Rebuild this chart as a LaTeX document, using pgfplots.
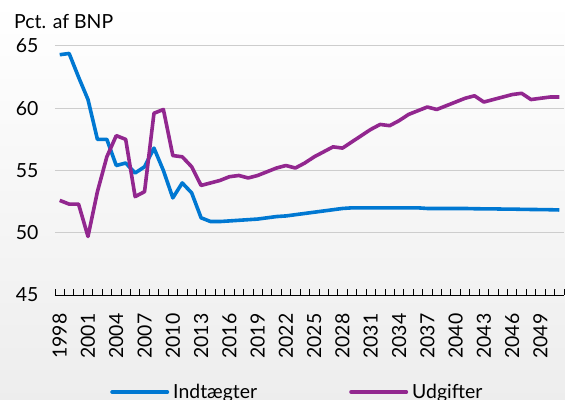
\documentclass[border=0pt]{standalone}
\usepackage{pgfplots}
\pgfplotsset{compat=1.18}
\usepackage{fontspec}
\setmainfont{Lato}
\definecolor{cblue}{RGB}{0,120,210}
\definecolor{cpurple}{RGB}{146,39,143}
\definecolor{cgrid}{RGB}{205,205,205}
\newcommand{\ff}{\fontsize{19.5}{22}\selectfont}
\begin{document}
\begin{tikzpicture}
\useasboundingbox (0bp,0bp) rectangle (565bp,400bp);
\clip (0bp,0bp) rectangle (565bp,400bp);
\shade[top color=white, bottom color=black!7] (0bp,0bp) rectangle (565bp,400bp);
\node[anchor=west, font=\ff, inner sep=0pt] at (14bp,378bp) {Pct. af BNP};
\begin{axis}[
  at={(55bp,105bp)}, anchor=south west,
  scale only axis, width=509bp, height=249bp,
  xmin=1997.5, xmax=2051.5, ymin=45, ymax=65,
  ytick={45,50,...,65},
  xtick={1998,2001,...,2049},
  minor xtick={1997.5,1998.5,...,2051.5},
  major tick length=0pt, minor tick length=5.5bp,
  tick align=inside,
  xtick style={draw=none},
  minor x tick style={draw=black, line width=0.8bp},
  ytick style={draw=none},
  axis x line*=bottom, axis y line*=left,
  y axis line style={draw=none},
  axis line style={line width=1bp, -},
  x axis line style={black},
  ymajorgrids, grid style={cgrid, line width=1bp},
  xticklabel style={rotate=90, anchor=east, font=\ff},
  xticklabel shift=15bp,
  yticklabel style={font=\ff},
  yticklabel shift=13bp,
  /pgf/number format/assume math mode=true,
  /pgf/number format/1000 sep={},
  xtick pos=bottom,
  legend columns=2,
  legend style={at={(0.476,0)}, yshift=-97bp, anchor=center, draw=none, fill=none,
    font=\ff, /tikz/every even column/.append style={column sep=90bp},
    /tikz/every odd column/.append style={column sep=2bp}},
  legend image code/.code={\draw[#1, line width=4bp, line cap=round] (0bp,0bp) -- (55bp,0bp);},
  clip=false,
]
\addplot[cblue, line width=3.6bp, line join=round] coordinates {
(1998,64.3)(1999,64.4)(2000,62.5)(2001,60.7)(2002,57.5)(2003,57.5)(2004,55.4)(2005,55.6)
(2006,54.8)(2007,55.3)(2008,56.8)(2009,55.0)(2010,52.8)(2011,54.0)(2012,53.2)(2013,51.2)
(2014,50.9)(2015,50.9)(2016,50.95)(2017,51.0)(2018,51.05)(2019,51.1)(2020,51.2)(2021,51.3)
(2022,51.35)(2023,51.45)(2024,51.55)(2025,51.65)(2026,51.75)(2027,51.85)(2028,51.95)(2029,52.0)
(2030,52.0)(2031,52.0)(2032,52.0)(2033,52.0)(2034,52.0)(2035,52.0)(2036,52.0)(2037,51.95)
(2038,51.95)(2039,51.95)(2040,51.95)(2041,51.95)(2042,51.93)(2043,51.92)(2044,51.92)(2045,51.9)
(2046,51.9)(2047,51.88)(2048,51.87)(2049,51.86)(2050,51.85)(2051,51.83)
};
\addlegendentry{Indtægter}
\addplot[cpurple, line width=3.6bp, line join=round] coordinates {
(1998,52.6)(1999,52.3)(2000,52.3)(2001,49.7)(2002,53.3)(2003,56.1)(2004,57.8)(2005,57.5)
(2006,52.9)(2007,53.3)(2008,59.6)(2009,59.9)(2010,56.2)(2011,56.1)(2012,55.3)(2013,53.8)
(2014,54.0)(2015,54.2)(2016,54.5)(2017,54.6)(2018,54.4)(2019,54.6)(2020,54.9)(2021,55.2)
(2022,55.4)(2023,55.2)(2024,55.6)(2025,56.1)(2026,56.5)(2027,56.9)(2028,56.8)(2029,57.3)
(2030,57.8)(2031,58.3)(2032,58.7)(2033,58.6)(2034,59.0)(2035,59.5)(2036,59.8)(2037,60.1)
(2038,59.9)(2039,60.2)(2040,60.5)(2041,60.8)(2042,61.0)(2043,60.5)(2044,60.7)(2045,60.9)
(2046,61.1)(2047,61.2)(2048,60.7)(2049,60.8)(2050,60.9)(2051,60.9)
};
\addlegendentry{Udgifter}
\end{axis}
\end{tikzpicture}
\end{document}
